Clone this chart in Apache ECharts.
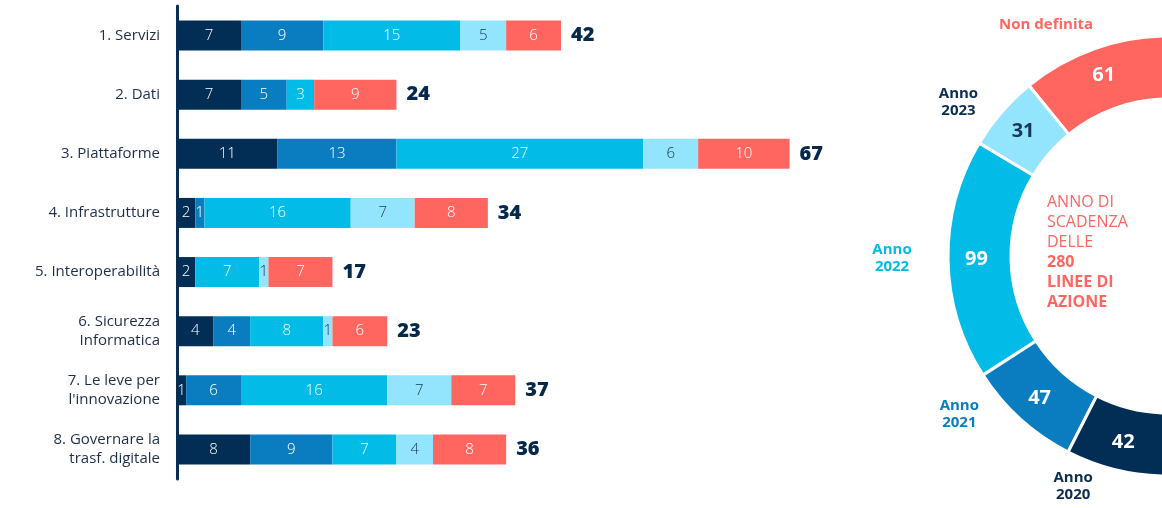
<!DOCTYPE html>
<html><head><meta charset="utf-8">
<script src="https://cdn.jsdelivr.net/npm/echarts@6/dist/echarts.min.js"></script>
<style>html,body{margin:0;padding:0;background:#fff}#c{width:1162px;height:508px}</style>
</head><body><div id="c"></div>
<script>
const categories = ["1. Servizi","2. Dati","3. Piattaforme","4. Infrastrutture","5. Interoperabilità","6. Sicurezza\nInformatica","7. Le leve per\nl'innovazione","8. Governare la\ntrasf. digitale"];
const seriesNames = ["Anno 2020","Anno 2021","Anno 2022","Anno 2023","Non definita"];
const anno2020 = [7,7,11,2,2,4,1,8];
const anno2021 = [9,5,13,1,0,4,6,9];
const anno2022 = [15,3,27,16,7,8,16,7];
const anno2023 = [5,0,6,7,1,1,7,4];
const nonDefinita = [6,9,10,8,7,6,7,8];
const donutLabels = ["Non definita","Anno\n2023","Anno\n2022","Anno\n2021","Anno\n2020"];

const colors = ["#022e55","#0a7dc0","#02bbe6","#93e4fd","#ff6660"];
const textColors = ["#ffffff","#ffffff","#ffffff","#16375a","#ffffff"];
const outerLabelColors = ["#ff6660","#0b2d50","#02bbe6","#0a7dc0","#0b2d50"];
const FONT = "'Open Sans', sans-serif";

const barData = [anno2020, anno2021, anno2022, anno2023, nonDefinita];
const totals = categories.map((c,i)=>barData.reduce((s,a)=>s+a[i],0));
const yearTotals = barData.map(a=>a.reduce((s,v)=>s+v,0));
const grand = yearTotals.reduce((s,v)=>s+v,0);

const donutOrder = [4,3,2,1,0];
const donutData = donutOrder.map((k,j)=>({
  value: yearTotals[k], name: seriesNames[k],
  itemStyle:{color: colors[k]},
  label:{color: textColors[k]}
}));
donutData.push({value: grand, name:'_', itemStyle:{color:'rgba(0,0,0,0)', borderWidth:0}, label:{show:false}, emphasis:{disabled:true}});

const labelPieData = donutOrder.map((k,j)=>({
  value: yearTotals[k], name: donutLabels[j],
  label:{color: outerLabelColors[j]}
}));
labelPieData.push({value: grand, name:'_', label:{show:false}});
const labelOffsets = [[-33,18],[-9,19],[-11,-2],[-31,-38],[-33,-27]];

const series = barData.map((arr,k)=>({
  name: seriesNames[k], type:'bar', stack:'t', barWidth:30,
  data: arr,
  itemStyle:{color: colors[k]},
  label:{show:true, position:'inside', color:textColors[k], fontSize:15, fontFamily:FONT, fontWeight:300,
    formatter: p=> p.value ? String(p.value) : ''},
  silent:true
}));
series.push({
  type:'scatter', symbolSize:0, data: totals.map((t,i)=>[t,i]),
  itemStyle:{opacity:1},
  label:{show:true, position:'right', distance:10, formatter:p=>String(p.value[0]), color:'#05284b', opacity:1, fontSize:20, fontWeight:800, fontFamily:FONT},
  silent:true
});
series.push({
  type:'pie', center:[1168,256], radius:[157,220], startAngle:90, clockwise:false,
  data: donutData, silent:true,
  itemStyle:{borderColor:'#fff', borderWidth:3},
  label:{show:true, position:'inside', formatter:p=>String(p.value), fontSize:20, fontWeight:'bold', fontFamily:FONT},
  labelLine:{show:false}
});
series.push({
  type:'pie', center:[1168,256], radius:[236,288], startAngle:90, clockwise:false,
  data: labelPieData, silent:true,
  itemStyle:{color:'rgba(0,0,0,0)'},
  label:{show:true, position:'inside', formatter:p=>p.name, fontSize:15, fontWeight:'bold', fontFamily:FONT, lineHeight:17, align:'center'},
  labelLine:{show:false},
  labelLayout: p => { const o = labelOffsets[p.dataIndex]; return o ? {dx:o[0], dy:o[1]} : {}; }
});

const chart = echarts.init(document.getElementById('c'));
chart.setOption({
  animation:false,
  title:{
    left:1047, top:192, padding:0,
    text:'{a|ANNO DI}\n{a|SCADENZA}\n{a|DELLE}\n{b|'+grand+'}\n{b|LINEE DI}\n{b|AZIONE}',
    textStyle:{fontWeight:'normal', rich:{
      a:{color:'#ff6660', fontSize:16, fontFamily:FONT, fontWeight:'normal', lineHeight:20},
      b:{color:'#ff6660', fontSize:16, fontFamily:FONT, fontWeight:'bold', lineHeight:20}
    }}
  },
  grid:{left:177, top:6, width:640, height:473},
  xAxis:{type:'value', min:0, max:70, show:false},
  yAxis:{type:'category', data:categories, inverse:true,
    axisLine:{show:true, lineStyle:{color:'#0b2d50', width:3}},
    axisTick:{show:false},
    axisLabel:{color:'#1d2d4a', fontSize:15, fontFamily:FONT, margin:17, lineHeight:19, align:'right'}
  },
  series
});
</script></body></html>
